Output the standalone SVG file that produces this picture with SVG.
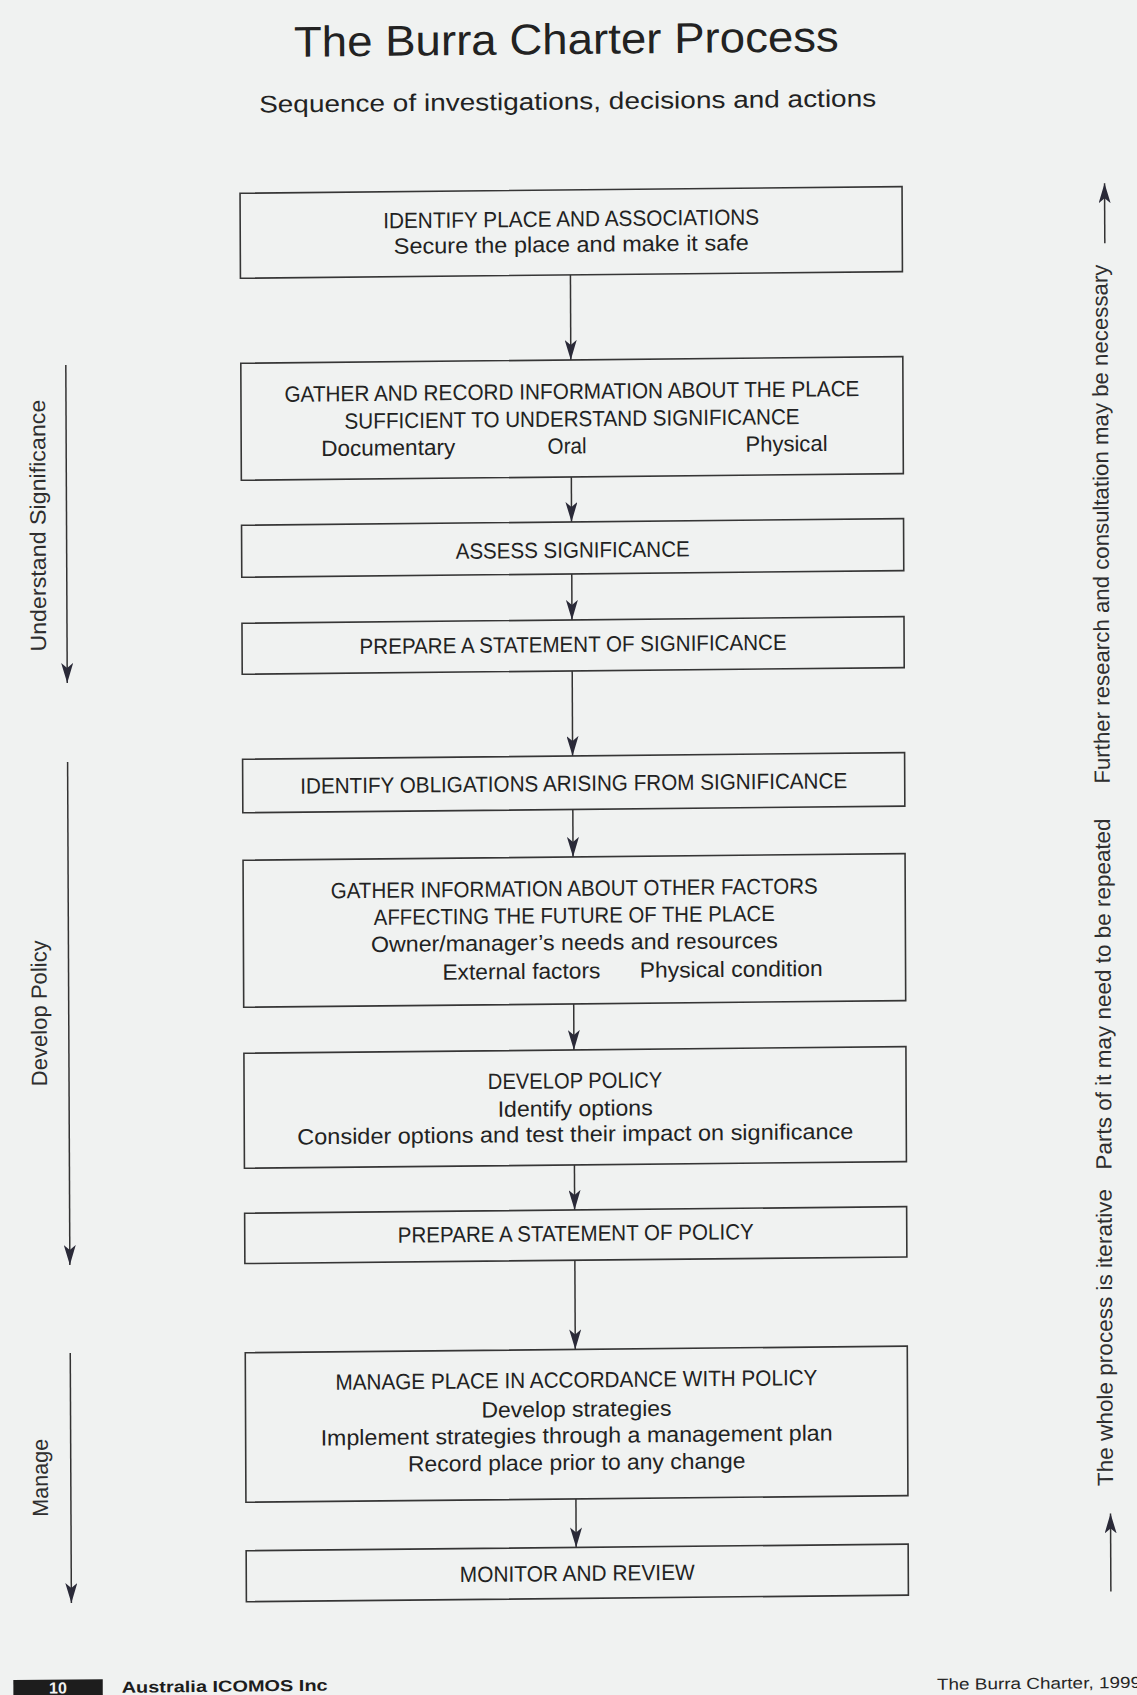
<svg xmlns="http://www.w3.org/2000/svg" width="1137" height="1695" viewBox="0 0 1137 1695">
<style>
.bx{fill:none;stroke:#363636;stroke-width:1.6}
.t{font-family:"Liberation Sans",Arial,sans-serif;fill:#222;font-size:22px;text-anchor:middle}
.s{text-anchor:start}
.side{font-family:"Liberation Sans",Arial,sans-serif;fill:#2e2e2e;font-size:22px}
.ln{stroke:#333;stroke-width:1.5;fill:none}
.ft{font-family:"Liberation Sans",Arial,sans-serif;font-weight:bold;font-size:16px}
</style>
<defs>
<marker id="ah" markerWidth="20" markerHeight="12" refX="20" refY="6" orient="auto" markerUnits="userSpaceOnUse" viewBox="0 0 20 12">
<path d="M0,0 L20,6 L0,12 L5,6 Z" fill="#2a2a38"/>
</marker>
</defs>
<rect width="1137" height="1695" fill="#f0f2f1"/>
<g transform="matrix(1,-0.010,0.0045,1,-3.81,5.68)">
<g id="title">
<text class="t" x="570" y="54" style="font-size:43px" textLength="545" lengthAdjust="spacingAndGlyphs">The Burra Charter Process</text>
<text class="t" x="571" y="109.5" style="font-size:24px" textLength="617" lengthAdjust="spacingAndGlyphs">Sequence of investigations, decisions and actions</text>
</g>
<g id="n1">
<rect class="bx" x="243" y="190" width="662" height="85"/>
<text class="t" x="574" y="226.5" textLength="376" lengthAdjust="spacingAndGlyphs">IDENTIFY PLACE AND ASSOCIATIONS</text>
<text class="t" x="574" y="252" textLength="355" lengthAdjust="spacingAndGlyphs">Secure the place and make it safe</text>
</g>
<g id="n2">
<rect class="bx" x="243" y="360" width="662" height="117"/>
<text class="t" x="574" y="399" textLength="575" lengthAdjust="spacingAndGlyphs">GATHER AND RECORD INFORMATION ABOUT THE PLACE</text>
<text class="t" x="574" y="426.5" textLength="455" lengthAdjust="spacingAndGlyphs">SUFFICIENT TO UNDERSTAND SIGNIFICANCE</text>
<text class="t s" x="323" y="453.5" textLength="134" lengthAdjust="spacingAndGlyphs">Documentary</text>
<text class="t s" x="549.4" y="453.5" textLength="39" lengthAdjust="spacingAndGlyphs">Oral</text>
<text class="t s" x="747.3" y="453.5" textLength="82" lengthAdjust="spacingAndGlyphs">Physical</text>
</g>
<g id="n3">
<rect class="bx" x="243" y="522" width="662" height="52"/>
<text class="t" x="574" y="557.7" textLength="234" lengthAdjust="spacingAndGlyphs">ASSESS SIGNIFICANCE</text>
</g>
<g id="n4">
<rect class="bx" x="243" y="620" width="662" height="51"/>
<text class="t" x="574" y="652" textLength="427" lengthAdjust="spacingAndGlyphs">PREPARE A STATEMENT OF SIGNIFICANCE</text>
</g>
<g id="n5">
<rect class="bx" x="243" y="756" width="662" height="53.5"/>
<text class="t" x="574" y="791" textLength="547" lengthAdjust="spacingAndGlyphs">IDENTIFY OBLIGATIONS ARISING FROM SIGNIFICANCE</text>
</g>
<g id="n6">
<rect class="bx" x="243" y="857" width="662" height="147"/>
<text class="t" x="574" y="896" textLength="487" lengthAdjust="spacingAndGlyphs">GATHER INFORMATION ABOUT OTHER FACTORS</text>
<text class="t" x="574" y="923" textLength="401" lengthAdjust="spacingAndGlyphs">AFFECTING THE FUTURE OF THE PLACE</text>
<text class="t" x="574" y="950" textLength="407" lengthAdjust="spacingAndGlyphs">Owner/manager’s needs and resources</text>
<text class="t s" x="441.8" y="978.5" textLength="158" lengthAdjust="spacingAndGlyphs">External factors</text>
<text class="t s" x="639.2" y="978.5" textLength="183" lengthAdjust="spacingAndGlyphs">Physical condition</text>
</g>
<g id="n7">
<rect class="bx" x="243" y="1050" width="662" height="115"/>
<text class="t" x="574" y="1088.3" textLength="174.5" lengthAdjust="spacingAndGlyphs">DEVELOP POLICY</text>
<text class="t" x="574" y="1116" textLength="155" lengthAdjust="spacingAndGlyphs">Identify options</text>
<text class="t" x="574" y="1141.7" textLength="556" lengthAdjust="spacingAndGlyphs">Consider options and test their impact on significance</text>
</g>
<g id="n8">
<rect class="bx" x="243" y="1210" width="662" height="50.3"/>
<text class="t" x="574" y="1241" textLength="356" lengthAdjust="spacingAndGlyphs">PREPARE A STATEMENT OF POLICY</text>
</g>
<g id="n9">
<rect class="bx" x="243" y="1349.5" width="662" height="149.5"/>
<text class="t" x="574" y="1387.5" textLength="482" lengthAdjust="spacingAndGlyphs">MANAGE PLACE IN ACCORDANCE WITH POLICY</text>
<text class="t" x="574" y="1416.7" textLength="190" lengthAdjust="spacingAndGlyphs">Develop strategies</text>
<text class="t" x="574" y="1443" textLength="512" lengthAdjust="spacingAndGlyphs">Implement strategies through a management plan</text>
<text class="t" x="574" y="1470" textLength="337.5" lengthAdjust="spacingAndGlyphs">Record place prior to any change</text>
</g>
<g id="n10">
<rect class="bx" x="243" y="1547.5" width="662" height="51"/>
<text class="t" x="574" y="1581" textLength="235" lengthAdjust="spacingAndGlyphs">MONITOR AND REVIEW</text>
</g>
<g id="connectors">
<line class="ln" x1="573" y1="275" x2="573" y2="360" marker-end="url(#ah)"/>
<line class="ln" x1="573" y1="477" x2="573" y2="522" marker-end="url(#ah)"/>
<line class="ln" x1="573" y1="574" x2="573" y2="620" marker-end="url(#ah)"/>
<line class="ln" x1="573" y1="671" x2="573" y2="756" marker-end="url(#ah)"/>
<line class="ln" x1="573" y1="809.5" x2="573" y2="857" marker-end="url(#ah)"/>
<line class="ln" x1="573" y1="1004" x2="573" y2="1050" marker-end="url(#ah)"/>
<line class="ln" x1="573" y1="1165" x2="573" y2="1210" marker-end="url(#ah)"/>
<line class="ln" x1="573" y1="1260.3" x2="573" y2="1349.5" marker-end="url(#ah)"/>
<line class="ln" x1="573" y1="1499" x2="573" y2="1547.5" marker-end="url(#ah)"/>
<line class="ln" x1="68" y1="360" x2="68" y2="678" marker-end="url(#ah)"/>
<line class="ln" x1="68" y1="757" x2="68" y2="1260" marker-end="url(#ah)"/>
<line class="ln" x1="68" y1="1348" x2="68" y2="1598" marker-end="url(#ah)"/>
<line class="ln" x1="1107.5" y1="248.6" x2="1107.5" y2="188.6" marker-end="url(#ah)"/>
<line class="ln" x1="1107.5" y1="1597" x2="1107.5" y2="1518.8" marker-end="url(#ah)"/>
</g>
<g id="phases">
<text class="side" transform="translate(47,646.4) rotate(-90)" textLength="252" lengthAdjust="spacingAndGlyphs">Understand Significance</text>
<text class="side" transform="translate(46,1081) rotate(-90)" textLength="146" lengthAdjust="spacingAndGlyphs">Develop Policy</text>
<text class="side" transform="translate(45,1511.4) rotate(-90)" textLength="78" lengthAdjust="spacingAndGlyphs">Manage</text>
</g>
<g id="iteration-notes">
<text class="side" transform="translate(1110,789) rotate(-90)" textLength="519" lengthAdjust="spacingAndGlyphs">Further research and consultation may be necessary</text>
<text class="side" transform="translate(1110,1174.8) rotate(-90)" textLength="351" lengthAdjust="spacingAndGlyphs">Parts of it may need to be repeated</text>
<text class="side" transform="translate(1110,1491.4) rotate(-90)" textLength="297" lengthAdjust="spacingAndGlyphs">The whole process is iterative</text>
</g>
<g id="footer">
<rect x="9.6" y="1674.5" width="89.4" height="40" fill="#1d1d1d"/>
<text class="ft" x="54.2" y="1688.3" text-anchor="middle" fill="#f2f2f2">10</text>
<text class="ft" x="117.9" y="1688.3" textLength="206" lengthAdjust="spacingAndGlyphs" fill="#1d1d1d">Australia ICOMOS Inc</text>
<text x="933.2" y="1693.5" textLength="204" lengthAdjust="spacingAndGlyphs" style="font-family:'Liberation Sans',Arial,sans-serif;font-size:16px;fill:#262626">The Burra Charter, 1999</text>
</g>
</g>
</svg>
